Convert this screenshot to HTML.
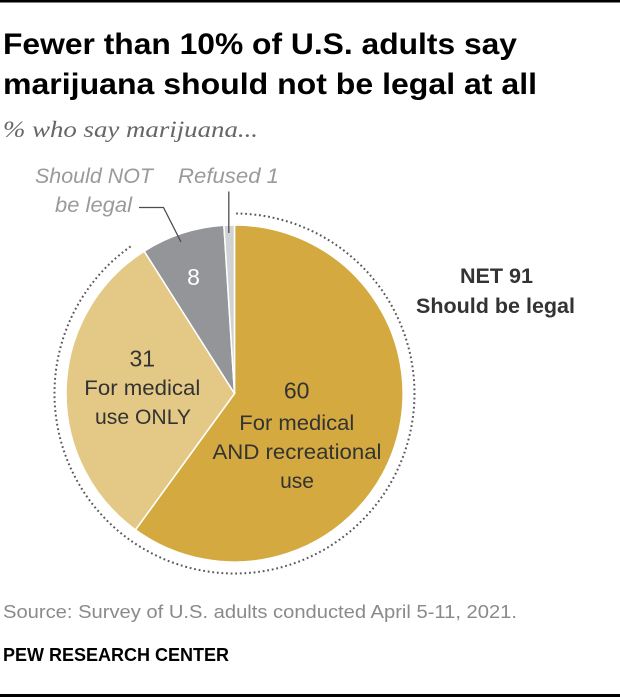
<!DOCTYPE html>
<html>
<head>
<meta charset="utf-8">
<style>
html,body{margin:0;padding:0;background:#fff;}
svg{display:block;}
</style>
</head>
<body>
<svg width="620" height="700" viewBox="0 0 620 700" xmlns="http://www.w3.org/2000/svg">
  <rect x="0" y="0" width="620" height="700" fill="#ffffff"/>
  <!-- top rule -->
  <rect x="0" y="0" width="620" height="2.5" fill="#000"/>

  <!-- title -->
  <g font-family="'Liberation Sans', sans-serif" font-weight="bold" font-size="30" fill="#000">
    <text x="3" y="54" textLength="514" lengthAdjust="spacingAndGlyphs">Fewer than 10% of U.S. adults say</text>
    <text x="3" y="94" textLength="534" lengthAdjust="spacingAndGlyphs">marijuana should not be legal at all</text>
  </g>
  <text x="3" y="137" font-family="'Liberation Serif', serif" font-style="italic" font-size="23" fill="#666" textLength="255" lengthAdjust="spacingAndGlyphs">% who say marijuana...</text>

  <!-- dotted outline arc -->
  <path d="M 236.1 213.5 A 180 180 0 1 1 131.3 246" fill="none" stroke="#58595b" stroke-width="2" stroke-dasharray="1.8 2.8" stroke-linecap="butt"/>

  <!-- pie slices -->
  <g stroke="#ffffff" stroke-width="1.5" stroke-linejoin="round">
    <path d="M 234.5 393.5 L 234.5 225 A 168.5 168.5 0 1 1 135.5 529.8 Z" fill="#D3A940"/>
    <path d="M 234.5 393.5 L 135.5 529.8 A 168.5 168.5 0 0 1 144.2 251.2 Z" fill="#E3C985"/>
    <path d="M 234.5 393.5 L 144.2 251.2 A 168.5 168.5 0 0 1 223.9 225.3 Z" fill="#949599"/>
    <path d="M 234.5 393.5 L 223.9 225.3 A 168.5 168.5 0 0 1 234.5 225 Z" fill="#D1D2D4"/>
  </g>

  <!-- leader lines -->
  <polyline points="139,207.5 163.5,207.5 181,242" fill="none" stroke="#4d4d4f" stroke-width="1.3"/>
  <line x1="228.8" y1="191.5" x2="228.8" y2="233" stroke="#4d4d4f" stroke-width="1.3"/>

  <!-- outside labels -->
  <g font-family="'Liberation Sans', sans-serif" font-style="italic" font-size="21" fill="#9a9a9c">
    <text x="35" y="183" textLength="118" lengthAdjust="spacingAndGlyphs">Should NOT</text>
    <text x="55" y="212" textLength="77" lengthAdjust="spacingAndGlyphs">be legal</text>
    <text x="178" y="183" textLength="101" lengthAdjust="spacingAndGlyphs">Refused 1</text>
  </g>

  <!-- slice labels -->
  <g font-family="'Liberation Sans', sans-serif" font-size="21" fill="#333" text-anchor="middle">
    <text x="193.5" y="285" fill="#ffffff" font-size="23">8</text>
    <text x="142.3" y="366.5" font-size="23">31</text>
    <text x="142.3" y="395" textLength="116" lengthAdjust="spacingAndGlyphs">For medical</text>
    <text x="143" y="424" textLength="96" lengthAdjust="spacingAndGlyphs">use ONLY</text>
    <text x="296.7" y="398.5" font-size="23">60</text>
    <text x="296.8" y="430" textLength="115" lengthAdjust="spacingAndGlyphs">For medical</text>
    <text x="297" y="459" textLength="169" lengthAdjust="spacingAndGlyphs">AND recreational</text>
    <text x="297" y="488">use</text>
  </g>

  <!-- NET label -->
  <g font-family="'Liberation Sans', sans-serif" font-weight="bold" font-size="21" fill="#333" text-anchor="middle">
    <text x="496.5" y="283" textLength="73" lengthAdjust="spacingAndGlyphs">NET 91</text>
    <text x="495.5" y="313" textLength="159" lengthAdjust="spacingAndGlyphs">Should be legal</text>
  </g>

  <!-- footer -->
  <text x="3" y="618" font-family="'Liberation Sans', sans-serif" font-size="18" fill="#8a8a8a" textLength="514" lengthAdjust="spacingAndGlyphs">Source: Survey of U.S. adults conducted April 5-11, 2021.</text>
  <text x="3" y="661" font-family="'Liberation Sans', sans-serif" font-weight="bold" font-size="18" fill="#000" textLength="226" lengthAdjust="spacingAndGlyphs">PEW RESEARCH CENTER</text>

  <!-- bottom rule -->
  <rect x="0" y="694" width="620" height="3" fill="#000"/>
</svg>
</body>
</html>
